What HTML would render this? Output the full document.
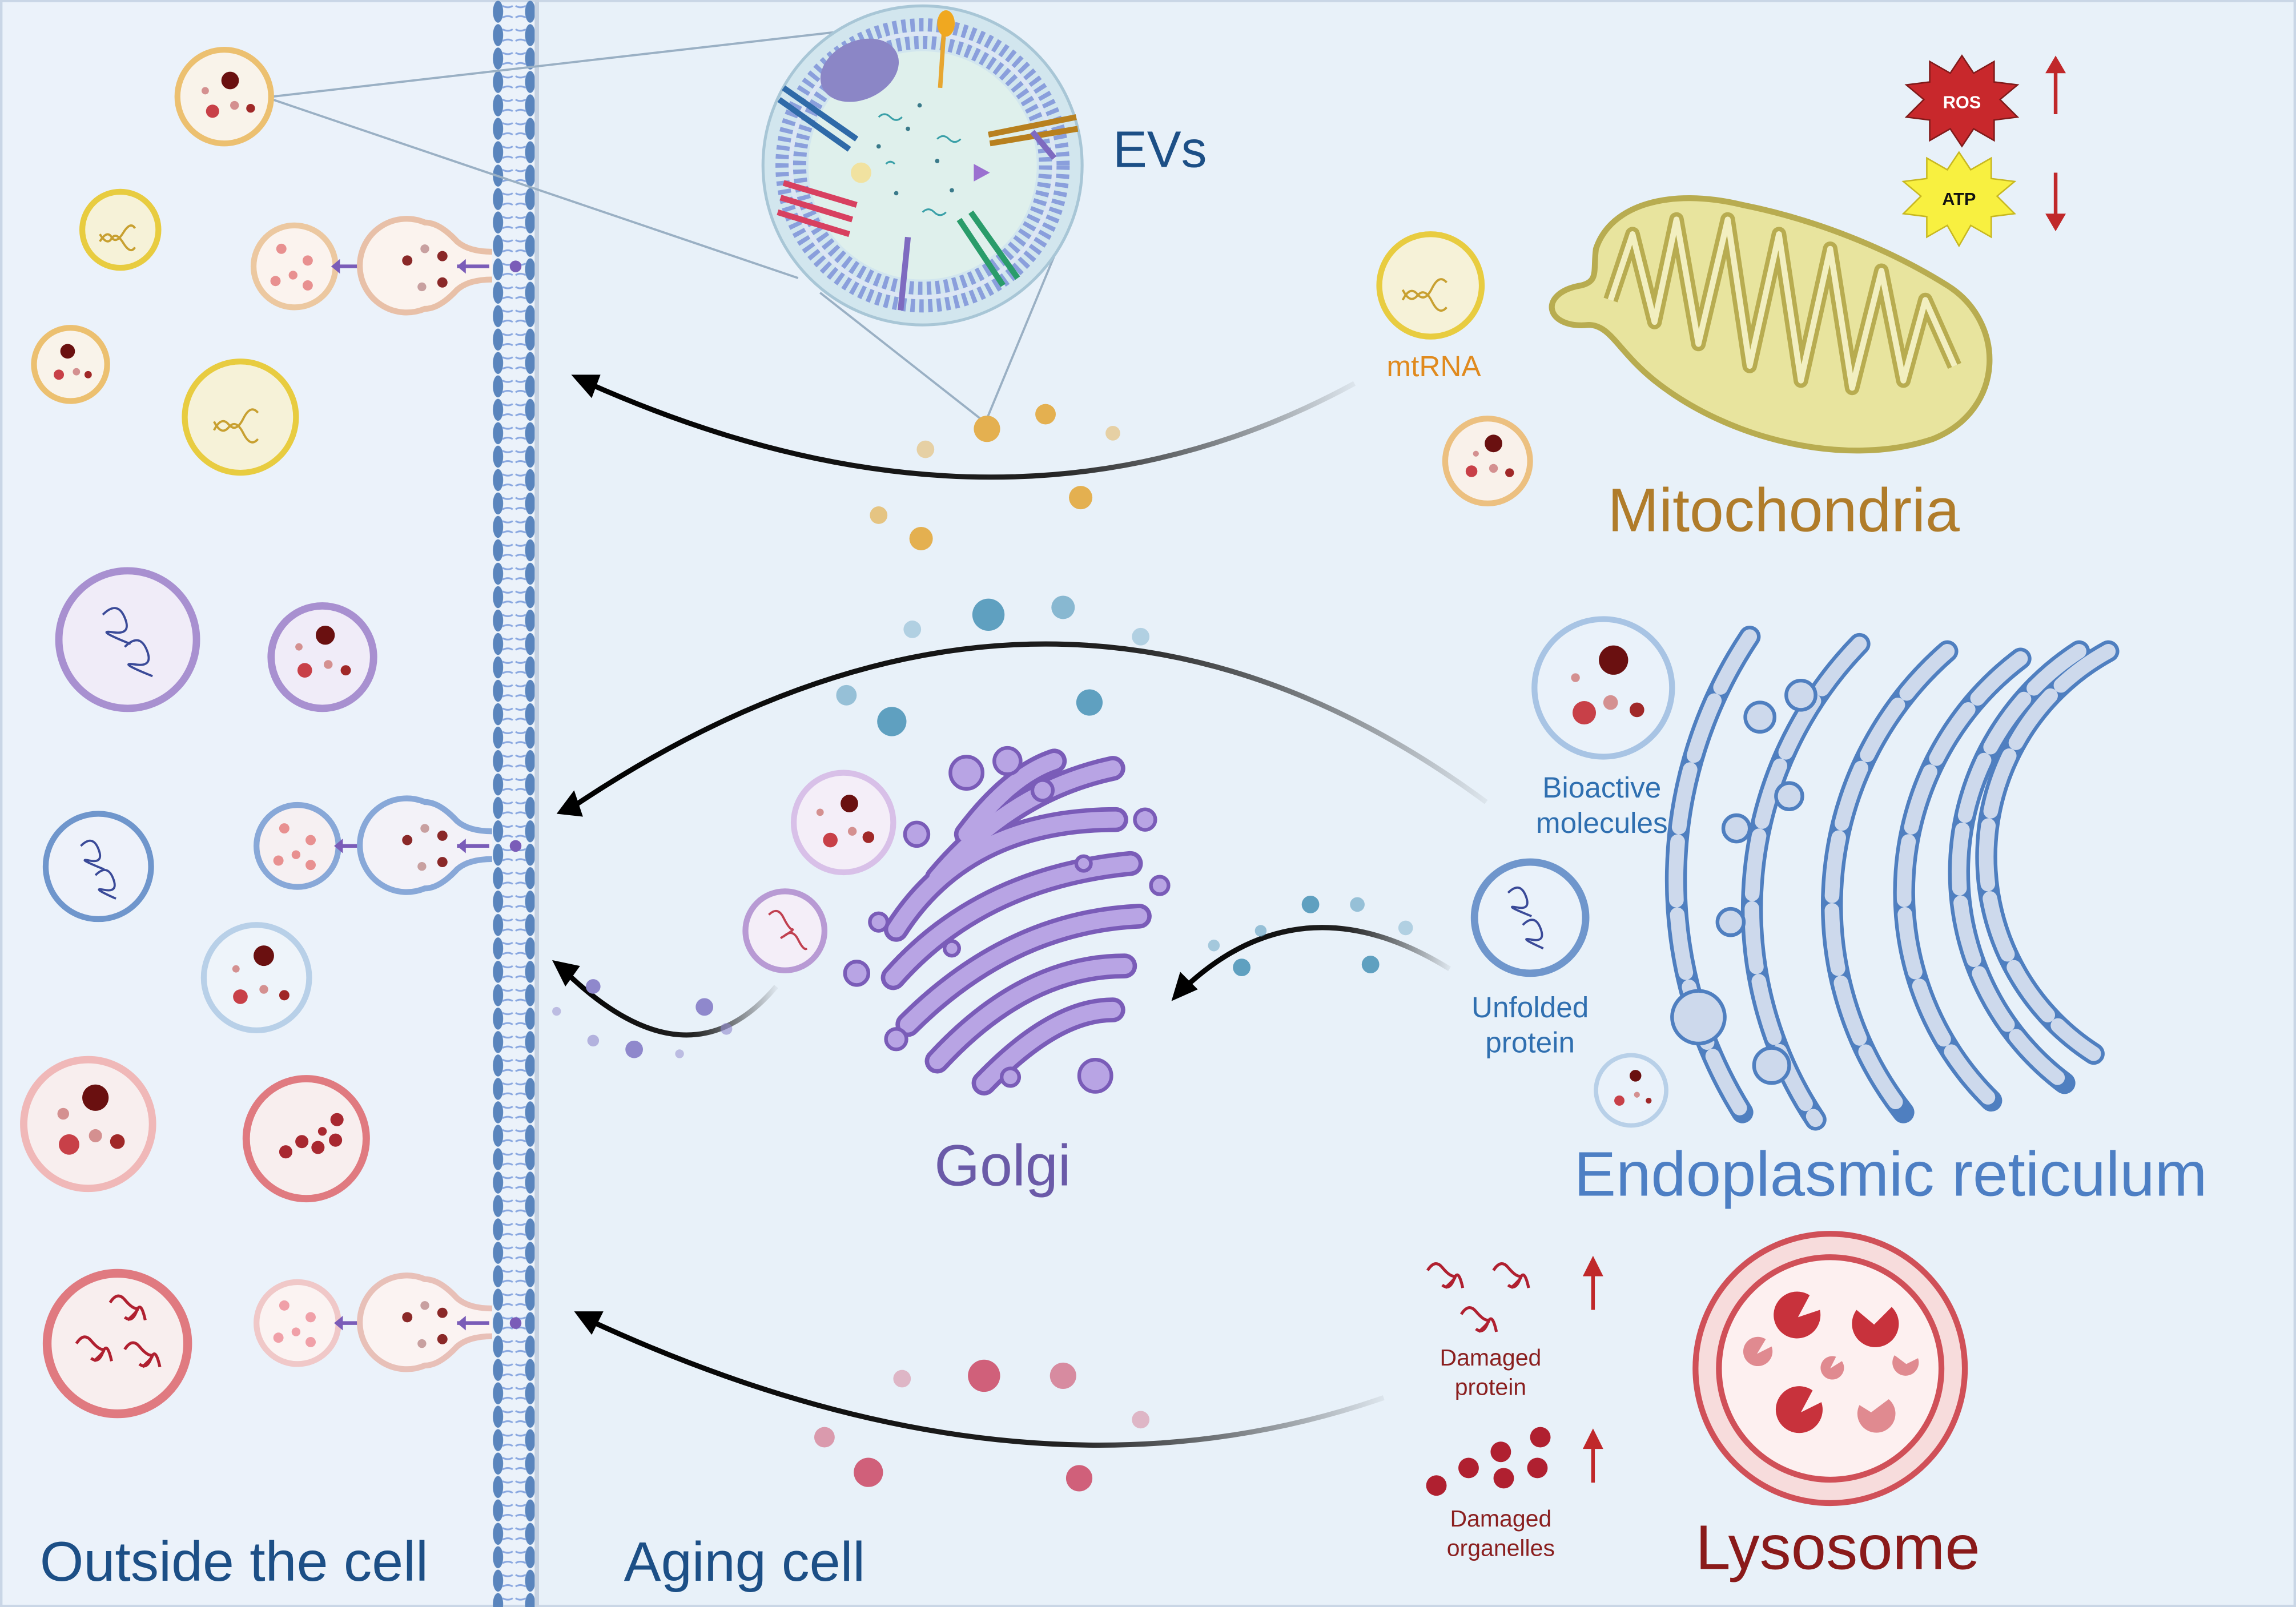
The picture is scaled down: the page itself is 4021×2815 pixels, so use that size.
<!DOCTYPE html>
<html><head><meta charset="utf-8"><style>
html,body{margin:0;padding:0;background:#eaf2fa;}
svg{display:block;}
text{font-family:"Liberation Sans",sans-serif;}
</style></head><body>
<svg width="4021" height="2815" viewBox="0 0 1568 1098" xmlns="http://www.w3.org/2000/svg">
<defs>
<linearGradient id="fadeR" x1="0" x2="1" y1="0" y2="0">
<stop offset="0" stop-color="#000"/><stop offset="0.6" stop-color="#222"/><stop offset="1" stop-color="#000" stop-opacity="0.05"/>
</linearGradient>
<pattern id="mem" x="336" y="0" width="30" height="16" patternUnits="userSpaceOnUse">
<ellipse cx="4" cy="8" rx="3.5" ry="7.5" fill="#5a85bd"/>
<ellipse cx="26" cy="8" rx="3.5" ry="7.5" fill="#5a85bd"/>
<path d="M7,4 Q11,6 14,4 M7,12 Q11,10 14,12 M16,4 Q19,6 23,4 M16,12 Q19,10 23,12" stroke="#8aa8e0" stroke-width="1.2" fill="none"/>
</pattern>
</defs>
<rect width="1568" height="1098" fill="#ebf2fa"/>
<rect x="366" y="0" width="1202" height="1098" fill="#e8f1f9"/>
<rect x="0" y="0" width="1568" height="1098" fill="none" stroke="#c9d6e6" stroke-width="3"/>
<!-- membrane -->
<rect x="336" y="0" width="30" height="1098" fill="url(#mem)"/>
<rect x="365" y="0" width="3" height="1098" fill="#c6d2e2"/>

<!-- EVs zoom -->
<line x1="186" y1="66" x2="570" y2="22" stroke="#9ab0c4" stroke-width="1.5"/>
<line x1="186" y1="68" x2="545" y2="190" stroke="#9ab0c4" stroke-width="1.5"/>
<line x1="560" y1="200" x2="672" y2="288" stroke="#9ab0c4" stroke-width="1.5"/>
<line x1="722" y1="170" x2="674" y2="286" stroke="#9ab0c4" stroke-width="1.5"/>
<circle cx="630" cy="113" r="109" fill="#d2e6ee" stroke="#a8c6d6" stroke-width="2"/>
<circle cx="630" cy="113" r="96" fill="none" stroke="#8a9fdc" stroke-width="9" stroke-dasharray="3 3"/>
<circle cx="630" cy="113" r="84" fill="none" stroke="#8a9fdc" stroke-width="9" stroke-dasharray="3 3"/>
<circle cx="630" cy="113" r="90" fill="none" stroke="#dce6f4" stroke-width="3"/>
<circle cx="630" cy="113" r="78" fill="#dff0ec"/>
<ellipse cx="587" cy="48" rx="28" ry="20" fill="#8b86c6" transform="rotate(-25 587 48)"/>
<path d="M645,15 L642,60" stroke="#e7a630" stroke-width="3"/><ellipse cx="646" cy="16" rx="6" ry="9" fill="#f0a820"/>
<path d="M535,60 L585,95 M532,68 L580,102" stroke="#2f6aa8" stroke-width="4"/>
<path d="M675,92 L735,80 M676,98 L736,88" stroke="#b8801e" stroke-width="4"/>
<path d="M705,90 L720,108" stroke="#7e6ac0" stroke-width="4"/>
<path d="M535,125 L585,140 M533,135 L582,150 M531,145 L580,160" stroke="#d84060" stroke-width="4"/>
<path d="M655,150 L685,195 M663,145 L695,190" stroke="#2a9c6a" stroke-width="4"/>
<path d="M620,162 L615,212" stroke="#7e6ac0" stroke-width="4"/>
<circle cx="588" cy="118" r="7" fill="#f1e2a0"/>
<path d="M665,112 L676,118 L665,124z" fill="#9b70d0"/>
<g fill="#3a7a8a"><circle cx="600" cy="100" r="1.5"/><circle cx="620" cy="88" r="1.5"/><circle cx="640" cy="110" r="1.5"/><circle cx="612" cy="132" r="1.5"/><circle cx="650" cy="130" r="1.5"/><circle cx="628" cy="72" r="1.5"/></g>
<path d="M600,80 q4,-4 8,0 t8,0 M640,95 q4,-4 8,0 t8,0 M630,145 q4,-4 8,0 t8,0 M605,112 q3,-3 6,0" stroke="#3aa0a8" stroke-width="1.2" fill="none"/>
<text x="760" y="114" font-size="35" fill="#1c4f86">EVs</text>

<!-- ROS ATP -->
<polygon points="1340,38 1348,50 1362,42 1362,56 1378,58 1366,68 1378,80 1362,82 1362,96 1348,88 1340,100 1332,88 1318,96 1318,82 1302,80 1314,68 1302,58 1318,56 1318,42 1332,50" fill="#c8282c" stroke="#801a1a" stroke-width="1"/>
<text x="1340" y="74" font-size="12" font-weight="bold" fill="#fff" text-anchor="middle">ROS</text>
<polygon points="1338,104 1346,116 1360,108 1360,122 1376,124 1364,134 1376,146 1360,148 1360,162 1346,154 1338,168 1330,154 1316,162 1316,148 1300,146 1312,134 1300,124 1316,122 1316,108 1330,116" fill="#f8f040" stroke="#c8b820" stroke-width="1"/>
<text x="1338" y="140" font-size="12" font-weight="bold" fill="#111" text-anchor="middle">ATP</text>
<path d="M1404,78 L1404,44" stroke="#c0282a" stroke-width="2.5"/><path d="M1397,50 L1404,38 L1411,50z" fill="#c0282a"/>
<path d="M1404,118 L1404,152" stroke="#c0282a" stroke-width="2.5"/><path d="M1397,146 L1404,158 L1411,146z" fill="#c0282a"/>

<!-- mitochondria -->
<path d="M1080,195 C1050,200 1055,225 1085,222 C1100,222 1105,240 1130,260 C1180,300 1260,320 1320,300 C1370,280 1370,220 1330,195 C1290,170 1240,150 1190,140 C1140,128 1100,140 1090,170 C1088,185 1092,192 1080,195z" fill="#e8e49e" stroke="#b8ac50" stroke-width="4"/>
<path d="M1100,205 L1115,160 L1130,220 L1145,150 L1160,235 L1180,150 L1195,250 L1215,160 L1230,260 L1250,170 L1265,265 L1285,185 L1300,260 L1315,205 L1335,250" fill="none" stroke="#b8ac50" stroke-width="10" stroke-linejoin="round"/>
<path d="M1100,205 L1115,160 L1130,220 L1145,150 L1160,235 L1180,150 L1195,250 L1215,160 L1230,260 L1250,170 L1265,265 L1285,185 L1300,260 L1315,205 L1335,250" fill="none" stroke="#f2efc0" stroke-width="4" stroke-linejoin="round"/>
<text x="1098" y="363" font-size="42" fill="#b07c2a">Mitochondria</text>

<!-- mtRNA vesicle -->
<circle cx="977" cy="195" r="35" fill="#f6f2d8" stroke="#e8cc40" stroke-width="4"/>
<path d="M958,205 q5,-10 10,-4 t10,-4 t10,-4 M958,198 q5,10 10,4 t10,4 t10,4" stroke="#c8a030" stroke-width="1.5" fill="none"/>
<text x="947" y="257" font-size="20" fill="#e08a1e">mtRNA</text>
<circle cx="1016" cy="315" r="29" fill="#f9f1ea" stroke="#ecc080" stroke-width="4"/>
<circle cx="1020" cy="303" r="6" fill="#6a1010"/><circle cx="1005" cy="322" r="4" fill="#c84048"/><circle cx="1020" cy="320" r="3" fill="#d49090"/><circle cx="1031" cy="323" r="3" fill="#a02828"/><circle cx="1008" cy="310" r="2" fill="#d49090"/>

<!-- arrows -->
<path d="M925,262 Q690,390 402,262" fill="none" stroke="url(#fadeR)" stroke-width="3.5"/>
<path d="M390,256 L410,256 L404,272z" fill="#000"/>
<path d="M1015,548 Q720,330 390,552" fill="none" stroke="url(#fadeR)" stroke-width="3.5"/>
<path d="M380,556 L392,540 L398,558z" fill="#000"/>
<path d="M990,662 Q890,600 810,674" fill="none" stroke="url(#fadeR)" stroke-width="3.5"/>
<path d="M800,684 L806,664 L818,676z" fill="#000"/>
<path d="M530,674 Q470,745 386,664" fill="none" stroke="url(#fadeR)" stroke-width="3.5"/>
<path d="M377,656 L396,660 L386,674z" fill="#000"/>
<path d="M945,955 Q700,1040 402,902" fill="none" stroke="url(#fadeR)" stroke-width="3.5"/>
<path d="M392,896 L412,896 L404,912z" fill="#000"/>

<!-- beads top -->
<g fill="#e4b050"><circle cx="674" cy="293" r="9"/><circle cx="714" cy="283" r="7"/><circle cx="760" cy="296" r="5" opacity=".5"/><circle cx="632" cy="307" r="6" opacity=".5"/><circle cx="738" cy="340" r="8"/><circle cx="600" cy="352" r="6" opacity=".7"/><circle cx="629" cy="368" r="8"/></g>
<g fill="#5fa0c0"><circle cx="675" cy="420" r="11"/><circle cx="726" cy="415" r="8" opacity=".7"/><circle cx="623" cy="430" r="6" opacity=".4"/><circle cx="779" cy="435" r="6" opacity=".4"/><circle cx="578" cy="475" r="7" opacity=".6"/><circle cx="609" cy="493" r="10"/><circle cx="744" cy="480" r="9"/></g>
<g fill="#5fa0c0"><circle cx="895" cy="618" r="6"/><circle cx="927" cy="618" r="5" opacity=".6"/><circle cx="960" cy="634" r="5" opacity=".4"/><circle cx="861" cy="636" r="4" opacity=".6"/><circle cx="829" cy="646" r="4" opacity=".5"/><circle cx="848" cy="661" r="6"/><circle cx="936" cy="659" r="6"/></g>
<g fill="#8f88cc"><circle cx="405" cy="674" r="5"/><circle cx="481" cy="688" r="6"/><circle cx="380" cy="691" r="3" opacity=".5"/><circle cx="496" cy="703" r="4" opacity=".6"/><circle cx="405" cy="711" r="4" opacity=".6"/><circle cx="433" cy="717" r="6"/><circle cx="464" cy="720" r="3" opacity=".5"/></g>
<g fill="#d0607a"><circle cx="672" cy="940" r="11"/><circle cx="726" cy="940" r="9" opacity=".7"/><circle cx="616" cy="942" r="6" opacity=".4"/><circle cx="779" cy="970" r="6" opacity=".4"/><circle cx="563" cy="982" r="7" opacity=".6"/><circle cx="593" cy="1006" r="10"/><circle cx="737" cy="1010" r="9"/></g>

<!-- Golgi -->
<g fill="none" stroke-linecap="round">
<g stroke="#7a5cb8" stroke-width="17">
<path d="M612,635 Q660,560 762,560"/><path d="M610,668 Q670,600 772,590"/><path d="M620,700 Q690,630 778,626"/><path d="M640,725 Q700,660 768,660"/><path d="M672,740 Q720,690 760,690"/>
<path d="M640,600 Q690,540 760,525"/><path d="M660,570 Q690,530 720,520"/>
</g>
<g stroke="#b8a4e4" stroke-width="11">
<path d="M612,635 Q660,560 762,560"/><path d="M610,668 Q670,600 772,590"/><path d="M620,700 Q690,630 778,626"/><path d="M640,725 Q700,660 768,660"/><path d="M672,740 Q720,690 760,690"/>
<path d="M640,600 Q690,540 760,525"/><path d="M660,570 Q690,530 720,520"/>
</g></g>
<g fill="#b8a4e4" stroke="#7a5cb8" stroke-width="2.5">
<circle cx="660" cy="528" r="11"/><circle cx="688" cy="520" r="9"/><circle cx="712" cy="540" r="7"/><circle cx="626" cy="570" r="8"/><circle cx="600" cy="630" r="6"/><circle cx="585" cy="665" r="8"/><circle cx="612" cy="710" r="7"/><circle cx="690" cy="736" r="6"/><circle cx="748" cy="735" r="11"/><circle cx="782" cy="560" r="7"/><circle cx="792" cy="605" r="6"/><circle cx="740" cy="590" r="5"/><circle cx="650" cy="648" r="5"/></g>
<text x="638" y="810" font-size="40" fill="#6a5aa8">Golgi</text>
<circle cx="576" cy="562" r="34" fill="#f4eef8" stroke="#d8c0e8" stroke-width="4"/>
<circle cx="580" cy="549" r="6" fill="#6a1010"/><circle cx="567" cy="574" r="5" fill="#c84048"/><circle cx="582" cy="568" r="3" fill="#d49090"/><circle cx="593" cy="572" r="4" fill="#a02828"/><circle cx="560" cy="555" r="2.5" fill="#d49090"/>
<circle cx="536" cy="636" r="27" fill="#f4eef8" stroke="#b89ad4" stroke-width="4"/>
<path d="M525,625 q6,-6 10,2 t6,8 t-8,6 M535,640 q6,-6 10,2 t6,6" stroke="#c04050" stroke-width="1.5" fill="none"/>

<!-- ER -->
<g fill="none" stroke-linecap="round">
<g stroke="#4f7fc0" stroke-width="15">
<path d="M1435,435 A300,300 0 0 0 1430,760" transform="translate(-240,0)"/>
<path d="M1430,440 A260,260 0 0 0 1400,765" transform="translate(-160,0)"/>
<path d="M1440,445 A230,230 0 0 0 1410,760" transform="translate(-110,0)"/>
<path d="M1440,450 A200,200 0 0 0 1420,752" transform="translate(-60,0)"/>
<path d="M1440,445 A180,180 0 0 0 1430,740" transform="translate(-20,0)"/>
<path d="M1440,445 A160,160 0 0 0 1430,720" transform="translate(0,0)"/>
</g>
<g stroke="#cdd9ec" stroke-width="10" stroke-dasharray="40 10">
<path d="M1435,435 A300,300 0 0 0 1430,760" transform="translate(-240,0)"/>
<path d="M1430,440 A260,260 0 0 0 1400,765" transform="translate(-160,0)"/>
<path d="M1440,445 A230,230 0 0 0 1410,760" transform="translate(-110,0)"/>
<path d="M1440,450 A200,200 0 0 0 1420,752" transform="translate(-60,0)"/>
<path d="M1440,445 A180,180 0 0 0 1430,740" transform="translate(-20,0)"/>
<path d="M1440,445 A160,160 0 0 0 1430,720" transform="translate(0,0)"/>
</g></g>
<g fill="#cdd9ec" stroke="#4f7fc0" stroke-width="2.5">
<circle cx="1160" cy="695" r="18"/><circle cx="1210" cy="728" r="12"/><circle cx="1186" cy="566" r="9"/><circle cx="1182" cy="630" r="9"/><circle cx="1202" cy="490" r="10"/><circle cx="1230" cy="475" r="10"/><circle cx="1222" cy="544" r="9"/></g>
<text x="1075" y="817" font-size="43" fill="#4d7fc4">Endoplasmic reticulum</text>

<circle cx="1095" cy="470" r="47" fill="#eaf2fa" stroke="#a8c4e4" stroke-width="4"/>
<circle cx="1102" cy="451" r="10" fill="#6a1010"/><circle cx="1082" cy="487" r="8" fill="#c84048"/><circle cx="1100" cy="480" r="5" fill="#d49090"/><circle cx="1118" cy="485" r="5" fill="#a02828"/><circle cx="1076" cy="463" r="3" fill="#d49090"/>
<text font-size="20" fill="#2f6fb0" text-anchor="middle"><tspan x="1094" y="545">Bioactive</tspan><tspan x="1094" y="569">molecules</tspan></text>
<circle cx="1045" cy="627" r="38" fill="#eaf2fa" stroke="#6f96cc" stroke-width="5"/>
<path d="M1030,610 q8,-8 12,2 t-6,8 t10,6 M1040,632 q8,-8 12,2 t-6,8 t8,6" stroke="#3a4a98" stroke-width="1.5" fill="none"/>
<text font-size="20" fill="#2f6fb0" text-anchor="middle"><tspan x="1045" y="695">Unfolded</tspan><tspan x="1045" y="719">protein</tspan></text>
<circle cx="1114" cy="745" r="24" fill="#eaf2fa" stroke="#b8d0e8" stroke-width="3"/>
<circle cx="1117" cy="735" r="4" fill="#6a1010"/><circle cx="1106" cy="752" r="3.5" fill="#c84048"/><circle cx="1118" cy="748" r="2" fill="#d49090"/><circle cx="1126" cy="752" r="2" fill="#a02828"/>

<!-- Lysosome -->
<circle cx="1250" cy="935" r="92" fill="#f7dcdc" stroke="#d05058" stroke-width="4"/>
<circle cx="1250" cy="935" r="76" fill="#fdf0f0" stroke="#d05058" stroke-width="4"/>
<g fill="#c8323c">
<path d="M1228,900 L1243,895 A16,16 0 1 1 1236,885z"/>
<path d="M1280,905 L1268,895 A16,16 0 1 0 1292,893z"/>
<path d="M1230,965 L1244,958 A16,16 0 1 1 1238,950z"/></g>
<g fill="#e08a90"><path d="M1200,925 L1210,920 A10,10 0 1 1 1206,915z"/><path d="M1250,935 L1258,930 A8,8 0 1 1 1254,927z"/><path d="M1302,932 L1294,926 A9,9 0 1 0 1310,928z"/><path d="M1278,965 L1270,960 A13,13 0 1 0 1290,956z"/></g>
<text x="1158" y="1072" font-size="43" fill="#8a1a1a">Lysosome</text>
<g stroke="#b02030" stroke-width="2" fill="none">
<path d="M975,868 q5,-8 10,-2 t8,6 t-6,8 M985,878 q5,4 8,-4 t6,6"/><path d="M1020,868 q5,-8 10,-2 t8,6 t-6,8 M1030,878 q5,4 8,-4 t6,6"/><path d="M998,898 q5,-8 10,-2 t8,6 t-6,8 M1008,908 q5,4 8,-4 t6,6"/></g>
<text font-size="16" fill="#8a1f1f" text-anchor="middle"><tspan x="1018" y="933">Damaged</tspan><tspan x="1018" y="953">protein</tspan></text>
<g fill="#b02030"><circle cx="981" cy="1015" r="7"/><circle cx="1003" cy="1003" r="7"/><circle cx="1025" cy="992" r="7"/><circle cx="1052" cy="982" r="7"/><circle cx="1027" cy="1010" r="7"/><circle cx="1050" cy="1003" r="7"/></g>
<text font-size="16" fill="#8a1f1f" text-anchor="middle"><tspan x="1025" y="1043">Damaged</tspan><tspan x="1025" y="1063">organelles</tspan></text>
<path d="M1088,895 L1088,866" stroke="#c0282a" stroke-width="2.5"/><path d="M1081,872 L1088,858 L1095,872z" fill="#c0282a"/>
<path d="M1088,1013 L1088,984" stroke="#c0282a" stroke-width="2.5"/><path d="M1081,990 L1088,976 L1095,990z" fill="#c0282a"/>

<!-- outside vesicles -->
<circle cx="153" cy="66" r="32" fill="#f9f3ea" stroke="#ecc070" stroke-width="4"/>
<circle cx="157" cy="55" r="6" fill="#6a1010"/><circle cx="145" cy="76" r="4.5" fill="#c84048"/><circle cx="160" cy="72" r="3" fill="#d49090"/><circle cx="171" cy="74" r="3" fill="#a02828"/><circle cx="140" cy="62" r="2.5" fill="#d49090"/>
<circle cx="82" cy="157" r="26" fill="#f6f2d8" stroke="#e8cc40" stroke-width="4"/>
<path d="M68,165 q5,-8 8,-3 t8,-3 t8,-3 M68,160 q5,8 8,3 t8,3 t8,3" stroke="#c8a030" stroke-width="1.5" fill="none"/>
<circle cx="164" cy="285" r="38" fill="#f6f2d8" stroke="#e8cc40" stroke-width="4"/>
<path d="M146,294 q5,-10 10,-4 t10,-4 t10,-4 M146,288 q5,10 10,4 t10,4 t10,4" stroke="#c8a030" stroke-width="1.5" fill="none"/>
<circle cx="48" cy="249" r="25" fill="#f9f3ea" stroke="#ecc070" stroke-width="4"/>
<circle cx="46" cy="240" r="5" fill="#6a1010"/><circle cx="40" cy="256" r="3.5" fill="#c84048"/><circle cx="52" cy="254" r="2.5" fill="#d49090"/><circle cx="60" cy="256" r="2.5" fill="#a02828"/>
<circle cx="201" cy="182" r="28" fill="#fbf3ee" stroke="#ecc8a0" stroke-width="4"/>
<g fill="#e89090"><circle cx="192" cy="170" r="3.5"/><circle cx="210" cy="178" r="3.5"/><circle cx="200" cy="188" r="3"/><circle cx="188" cy="192" r="3.5"/><circle cx="210" cy="195" r="3.5"/></g>
<path d="M228,182 L245,182" stroke="#7a5cb8" stroke-width="2.5"/><path d="M232,177 L226,182 L232,187z" fill="#7a5cb8"/>
<path d="M336,172 Q320,172 312,165 Q300,152 290,152 A32,32 0 1 0 290,211 Q300,211 312,198 Q320,191 336,191" fill="#fbf3ee" stroke="#e8c0a8" stroke-width="4"/>
<g fill="#8a2828"><circle cx="278" cy="178" r="3.5"/><circle cx="302" cy="175" r="3.5"/><circle cx="302" cy="193" r="3.5"/></g><circle cx="290" cy="170" r="3" fill="#c8a0a0"/><circle cx="288" cy="196" r="3" fill="#c8a0a0"/>
<path d="M312,182 L334,182" stroke="#7a5cb8" stroke-width="2.5"/><path d="M318,177 L312,182 L318,187z" fill="#7a5cb8"/><circle cx="352" cy="182" r="4" fill="#7a5cb8"/>

<circle cx="87" cy="437" r="47" fill="#f0ecf8" stroke="#a890d0" stroke-width="5"/>
<path d="M70,420 q10,-10 15,2 t-8,10 t12,8 M85,442 q10,-10 15,2 t-8,10 t12,8" stroke="#3a4a98" stroke-width="1.5" fill="none"/>
<circle cx="220" cy="449" r="35" fill="#f0ecf8" stroke="#a890d0" stroke-width="5"/>
<circle cx="222" cy="434" r="6.5" fill="#6a1010"/><circle cx="208" cy="458" r="5" fill="#c84048"/><circle cx="224" cy="454" r="3" fill="#d49090"/><circle cx="236" cy="458" r="3.5" fill="#a02828"/><circle cx="204" cy="442" r="2.5" fill="#d49090"/>
<circle cx="67" cy="592" r="36" fill="#eef2fa" stroke="#6f96cc" stroke-width="4"/>
<path d="M55,578 q8,-8 12,2 t-6,8 t10,6 M65,598 q8,-8 12,2 t-6,8 t8,6" stroke="#3a4a98" stroke-width="1.5" fill="none"/>
<circle cx="203" cy="578" r="28" fill="#f6f0f2" stroke="#88a8d8" stroke-width="4"/>
<g fill="#e89090"><circle cx="194" cy="566" r="3.5"/><circle cx="212" cy="574" r="3.5"/><circle cx="202" cy="584" r="3"/><circle cx="190" cy="588" r="3.5"/><circle cx="212" cy="591" r="3.5"/></g>
<path d="M230,578 L247,578" stroke="#7a5cb8" stroke-width="2.5"/><path d="M234,573 L228,578 L234,583z" fill="#7a5cb8"/>
<path d="M336,568 Q320,568 312,561 Q300,548 290,548 A32,32 0 1 0 290,607 Q300,607 312,594 Q320,587 336,587" fill="#f3f2f8" stroke="#88a8d8" stroke-width="4"/>
<g fill="#8a2828"><circle cx="278" cy="574" r="3.5"/><circle cx="302" cy="571" r="3.5"/><circle cx="302" cy="589" r="3.5"/></g><circle cx="290" cy="566" r="3" fill="#c8a0a0"/><circle cx="288" cy="592" r="3" fill="#c8a0a0"/>
<path d="M312,578 L334,578" stroke="#7a5cb8" stroke-width="2.5"/><path d="M318,573 L312,578 L318,583z" fill="#7a5cb8"/><circle cx="352" cy="578" r="4" fill="#7a5cb8"/>
<circle cx="175" cy="668" r="36" fill="#eef4fa" stroke="#b8d0e8" stroke-width="4"/>
<circle cx="180" cy="653" r="7" fill="#6a1010"/><circle cx="164" cy="681" r="5" fill="#c84048"/><circle cx="180" cy="676" r="3" fill="#d49090"/><circle cx="194" cy="680" r="3.5" fill="#a02828"/><circle cx="161" cy="662" r="2.5" fill="#d49090"/>
<circle cx="60" cy="768" r="44" fill="#f8eeee" stroke="#f0b8b8" stroke-width="5"/>
<circle cx="65" cy="750" r="9" fill="#6a1010"/><circle cx="47" cy="782" r="7" fill="#c84048"/><circle cx="65" cy="776" r="4.5" fill="#d49090"/><circle cx="80" cy="780" r="5" fill="#a02828"/><circle cx="43" cy="761" r="4" fill="#d49090"/>
<circle cx="209" cy="778" r="41" fill="#f8eeee" stroke="#e07a80" stroke-width="5"/>
<g fill="#a82830"><circle cx="195" cy="787" r="4.5"/><circle cx="206" cy="780" r="4.5"/><circle cx="217" cy="784" r="4.5"/><circle cx="229" cy="779" r="4.5"/><circle cx="230" cy="765" r="4.5"/><circle cx="220" cy="773" r="3"/></g>
<circle cx="80" cy="918" r="48" fill="#f8eeee" stroke="#e07a80" stroke-width="6"/>
<g stroke="#b02030" stroke-width="2" fill="none"><path d="M75,890 q5,-8 10,-2 t8,6 t-6,8 M85,900 q5,4 8,-4 t6,6"/><path d="M52,918 q5,-8 10,-2 t8,6 t-6,8 M62,928 q5,4 8,-4 t6,6"/><path d="M85,922 q5,-8 10,-2 t8,6 t-6,8 M95,932 q5,4 8,-4 t6,6"/></g>
<circle cx="203" cy="904" r="28" fill="#fbf3f2" stroke="#f0c8c8" stroke-width="4"/>
<g fill="#f0a0a8"><circle cx="194" cy="892" r="3.5"/><circle cx="212" cy="900" r="3.5"/><circle cx="202" cy="910" r="3"/><circle cx="190" cy="914" r="3.5"/><circle cx="212" cy="917" r="3.5"/></g>
<path d="M230,904 L247,904" stroke="#7a5cb8" stroke-width="2.5"/><path d="M234,899 L228,904 L234,909z" fill="#7a5cb8"/>
<path d="M336,894 Q320,894 312,887 Q300,874 290,874 A32,32 0 1 0 290,933 Q300,933 312,920 Q320,913 336,913" fill="#fbf3f2" stroke="#e8c0b8" stroke-width="4"/>
<g fill="#8a2828"><circle cx="278" cy="900" r="3.5"/><circle cx="302" cy="897" r="3.5"/><circle cx="302" cy="915" r="3.5"/></g><circle cx="290" cy="892" r="3" fill="#c8a0a0"/><circle cx="288" cy="918" r="3" fill="#c8a0a0"/>
<path d="M312,904 L334,904" stroke="#7a5cb8" stroke-width="2.5"/><path d="M318,899 L312,904 L318,909z" fill="#7a5cb8"/><circle cx="352" cy="904" r="4" fill="#7a5cb8"/>

<text x="27" y="1080" font-size="38.5" fill="#1c4f86">Outside the cell</text>
<text x="426" y="1080" font-size="38" fill="#1c4f86">Aging cell</text>
</svg>
</body></html>
